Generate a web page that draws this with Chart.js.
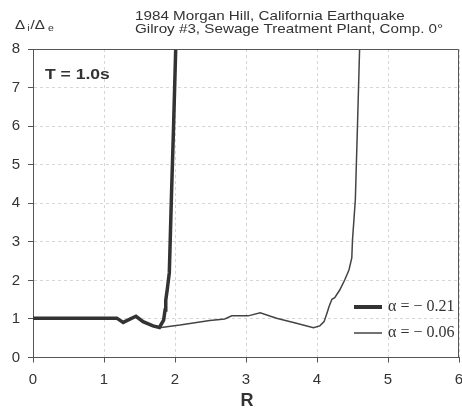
<!DOCTYPE html>
<html lang="en">
<head>
    <meta charset="UTF-8">
    <title>Morgan Hill R vs ductility ratio</title>
    <style>
        html, body {
            margin: 0;
            padding: 0;
            background: #fff;
        }
        #wrap {
            width: 462px;
            height: 411px;
        }
    </style>
    <script src="https://cdn.jsdelivr.net/npm/chart.js"></script>
</head>
<body>
    <div id="wrap"><canvas id="chart" width="462" height="411"></canvas></div>
    <script>
        // alpha = -0.21 (thick line)
        const rThick = [0, 1.18, 1.27, 1.45, 1.55, 1.69, 1.78, 1.84, 1.86, 1.87, 1.89, 1.92, 1.95, 1.98, 2.01];
        const ratioThick = [1.02, 1.02, 0.91, 1.07, 0.93, 0.82, 0.78, 0.97, 1.23, 1.49, 1.75, 2.2, 4.18, 6.0, 8.0];

        // alpha = -0.06 (thin line)
        const rThin = [1.78, 2.07, 2.49, 2.70, 2.80, 3.03, 3.20, 3.43, 3.71, 3.95, 4.04, 4.10, 4.14, 4.17, 4.21, 4.25, 4.32, 4.39, 4.45, 4.49, 4.50, 4.52, 4.54, 4.57, 4.60];
        const ratioThin = [0.77, 0.84, 0.96, 1.0, 1.08, 1.08, 1.16, 1.02, 0.89, 0.77, 0.82, 0.93, 1.15, 1.32, 1.51, 1.55, 1.75, 2.01, 2.27, 2.58, 3.05, 3.57, 4.09, 6.0, 8.0];

        const legendLabels = ['\u03b1 = \u2212 0.21', '\u03b1 = \u2212 0.06'];
        const titleLines = ['1984 Morgan Hill, California Earthquake', 'Gilroy #3, Sewage Treatment Plant, Comp. 0\u00b0'];

        const sans = '"Liberation Sans", Arial, sans-serif';
        const stretch = 1.17;   // the original lettering is a bit wide
        const toPoints = (xs, ys) => xs.map((x, i) => ({ x: x, y: ys[i] }));

        // writes text widened horizontally, starting at x
        function wideText(ctx, text, x, y) {
            ctx.save();
            ctx.translate(x, y);
            ctx.scale(stretch, 1);
            ctx.fillText(text, 0, 0);
            ctx.restore();
            return ctx.measureText(text).width * stretch;
        }

        // frame, texts and the in-plot legend
        const decorations = {
            id: 'decorations',
            afterDraw(chart) {
                const ctx = chart.ctx;
                const a = chart.chartArea;
                ctx.save();
                ctx.strokeStyle = '#555';
                ctx.lineWidth = 1;
                ctx.beginPath();
                ctx.moveTo(a.left, a.top + 0.5);
                ctx.lineTo(a.right - 0.5, a.top + 0.5);
                ctx.lineTo(a.right - 0.5, a.bottom);
                ctx.stroke();

                ctx.fillStyle = '#333';
                ctx.textBaseline = 'middle';
                ctx.textAlign = 'left';
                ctx.font = '13px ' + sans;
                wideText(ctx, titleLines[0], 135, 16);
                wideText(ctx, titleLines[1], 135, 29);

                // y axis label: Delta_i / Delta_e
                let x = 15;
                ctx.font = '13px ' + sans;
                x += wideText(ctx, '\u0394', x, 25) + 2;
                ctx.font = '9px ' + sans;
                x += wideText(ctx, 'i', x, 29) + 1;
                ctx.font = '13px ' + sans;
                x += wideText(ctx, '/\u0394', x, 25) + 3;
                ctx.font = '9px ' + sans;
                wideText(ctx, 'e', x, 29);

                ctx.font = 'bold 15px ' + sans;
                wideText(ctx, 'T = 1.0s', 45, 75);

                ctx.textAlign = 'center';
                ctx.font = 'bold 18px ' + sans;
                ctx.fillText('R', 247, 401);

                // legend
                const widths = [4, 1.5];
                const rows = [307, 333];
                chart.data.datasets.forEach((ds, i) => {
                    ctx.strokeStyle = ds.borderColor;
                    ctx.lineWidth = widths[i];
                    ctx.beginPath();
                    ctx.moveTo(354, rows[i]);
                    ctx.lineTo(382, rows[i]);
                    ctx.stroke();
                    ctx.textAlign = 'left';
                    ctx.fillStyle = '#333';
                    ctx.font = '16px "Liberation Serif", "Times New Roman", serif';
                    ctx.fillText(ds.label, 388, rows[i]);
                });
                ctx.restore();
            }
        };

        const axisBase = {
            type: 'linear',
            min: 0,
            border: { color: '#555', width: 1, dash: [3, 3] },
            grid: {
                color: '#d6d6d6',
                lineWidth: 1,
                tickLength: 5,
                tickColor: '#555',
                tickBorderDash: []
            }
        };

        new Chart(document.getElementById('chart').getContext('2d'), {
            type: 'line',
            data: {
                datasets: [
                    {
                        label: legendLabels[0],
                        data: toPoints(rThick, ratioThick),
                        borderColor: '#333',
                        borderWidth: 3.5,
                        pointRadius: 0,
                        tension: 0
                    },
                    {
                        label: legendLabels[1],
                        data: toPoints(rThin, ratioThin),
                        borderColor: '#444',
                        borderWidth: 1.5,
                        pointRadius: 0,
                        tension: 0
                    }
                ]
            },
            options: {
                responsive: false,
                animation: false,
                layout: { padding: { top: 49, right: 3, left: 0, bottom: 0 } },
                plugins: {
                    legend: { display: false },
                    tooltip: { enabled: false }
                },
                scales: {
                    x: Object.assign({}, axisBase, {
                        max: 6,
                        ticks: {
                            stepSize: 1,
                            padding: 8,
                            color: '#333',
                            font: { family: sans, size: 15 }
                        },
                        afterFit(scale) {
                            scale.height = 411 - 357.5;
                            scale.paddingLeft = 0;
                            scale.paddingRight = 0;
                        }
                    }),
                    y: Object.assign({}, axisBase, {
                        max: 8,
                        ticks: {
                            stepSize: 1,
                            padding: 8,
                            color: '#333',
                            font: { family: sans, size: 15 }
                        },
                        afterFit(scale) {
                            scale.width = 33;
                            scale.paddingTop = 0;
                            scale.paddingBottom = 0;
                        }
                    })
                }
            },
            plugins: [decorations]
        });
    </script>
</body>
</html>
